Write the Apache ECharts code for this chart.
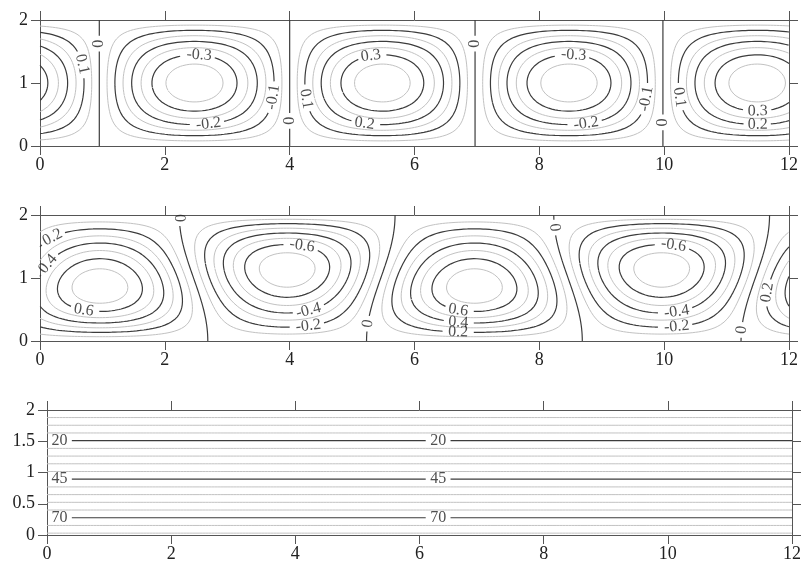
<!DOCTYPE html>
<html>
<head>
<meta charset="utf-8">
<script src="https://cdn.jsdelivr.net/npm/echarts@6/dist/echarts.min.js"></script>
<style>
html,body{margin:0;padding:0;background:#fff}
#chart{width:804px;height:567px}
</style>
</head>
<body>
<div id="chart"></div>
<script>
// ---- shared axis values ----
const xMin = 0, xMax = 12, xStep = 2;
const yMin = 0, yMax = 2;
const yStepTop = 1;      // panels 1 and 2
const yStepBottom = 0.5; // panel 3

// ---- panel 1: stream function, one cell between each pair of edges ----
const cellEdges1 = [-2.05, 0.95, 4.0, 6.97, 9.98, 13.0];
const cellAmp1 = [0.395, -0.393, 0.393, -0.393, 0.393];
const levels1 = [-0.35, -0.3, -0.25, -0.2, -0.15, -0.1, -0.05, 0.05, 0.1, 0.15, 0.2, 0.25, 0.3, 0.35];
const major1 = [-0.3, -0.2, -0.1, 0, 0.1, 0.2, 0.3];
const labelText1 = ['0', '0.1', '-0.3', '-0.2', '-0.1', '0', '0.3', '0.2', '0.1', '0', '-0.3', '-0.2', '-0.1', '0', '0.1', '0.3', '0.2'];
const labelX1 = [0.95, 0.64, 2.55, 2.70, 3.69, 4.00, 5.29, 5.18, 4.25, 6.97, 8.57, 8.77, 9.65, 9.98, 10.26, 11.5, 11.5];
const labelY1 = [1.63, 1.29, 1.38, 0.35, 0.77, 0.41, 1.40, 0.36, 0.76, 1.63, 1.40, 0.38, 0.77, 0.38, 0.77, 0.60, 0.35];

// ---- panel 2: tilted cells ----
const amp2 = 0.76;
const shear2 = 0.09;
const phase2 = 0.96;
const cellWidth2 = 3;
const levels2 = [-0.7, -0.6, -0.5, -0.4, -0.3, -0.2, -0.1, 0.1, 0.2, 0.3, 0.4, 0.5, 0.6, 0.7];
const major2 = [-0.6, -0.4, -0.2, 0, 0.2, 0.4, 0.6];
const labelText2 = ['0', '0.2', '0.4', '0.6', '-0.6', '-0.4', '-0.2', '0', '0.6', '0.4', '0.2', '0', '-0.6', '-0.4', '-0.2', '0', '0.2'];
const labelX2 = [2.02, 0.21, 0.11, 0.72, 4.20, 4.28, 4.28, 5.26, 6.68, 6.68, 6.68, 8.25, 10.13, 10.22, 10.22, 11.27, 11.70];
const labelY2 = [1.95, 1.63, 1.24, 0.49, 1.47, 0.49, 0.25, 0.28, 0.49, 0.30, 0.155, 1.80, 1.47, 0.49, 0.25, 0.17, 0.76];

// ---- panel 3: temperature layers ----
const tempBottom = 81.2;
const tempTop = 0.1;
const levels3 = [5, 10, 15, 20, 25, 30, 35, 40, 45, 50, 55, 60, 65, 70, 75, 80];
const major3 = [20, 45, 70];
const labelText3 = ['20', '45', '70', '20', '45', '70'];
const labelX3 = [0.2, 0.2, 0.2, 6.29, 6.29, 6.29];
const labelY3 = [1.51, 0.896, 0.277, 1.51, 0.896, 0.277];

// ---- fields ----
function psi1(x, y) {
  for (let k = 0; k < cellAmp1.length; k++) {
    const a = cellEdges1[k], b = cellEdges1[k + 1];
    if (x >= a && x <= b) return cellAmp1[k] * Math.sin(Math.PI * (x - a) / (b - a)) * Math.sin(Math.PI * y / 2);
  }
  return 0;
}
function psi1Zero(x) { return psi1(x, 1); }
function psi2(x, y) {
  return amp2 * Math.sin(Math.PI * y / 2) * Math.cos(Math.PI * (x - phase2) / cellWidth2) + shear2 * Math.sin(Math.PI * y);
}
// psi2 divided by sin(pi*y/2): same zero set, no zeros along top and bottom walls
function psi2Zero(x, y) {
  return amp2 * Math.cos(Math.PI * (x - phase2) / cellWidth2) + 2 * shear2 * Math.cos(Math.PI * y / 2);
}
function temp3(x, y) { return tempBottom + (tempTop - tempBottom) * y / 2; }

// ---- marching squares ----
const TABLE = {1: [[3, 0]], 2: [[0, 1]], 3: [[3, 1]], 4: [[1, 2]], 6: [[0, 2]], 7: [[3, 2]], 8: [[2, 3]],
  9: [[0, 2]], 11: [[1, 2]], 12: [[1, 3]], 13: [[0, 1]], 14: [[3, 0]]};
function isolines(f, level, nx, ny) {
  const xs = [], ys = [];
  for (let i = 0; i <= nx; i++) xs.push(xMin + (xMax - xMin) * i / nx);
  for (let j = 0; j <= ny; j++) ys.push(yMin + (yMax - yMin) * j / ny);
  const v = xs.map(x => ys.map(y => f(x, y)));
  const pts = new Map(), segs = [];
  const P = (key, x1, y1, v1, x2, y2, v2) => {
    if (!pts.has(key)) {
      const t = (level - v1) / (v2 - v1);
      pts.set(key, [x1 + t * (x2 - x1), y1 + t * (y2 - y1)]);
    }
    return key;
  };
  for (let i = 0; i < nx; i++) {
    for (let j = 0; j < ny; j++) {
      const va = v[i][j], vb = v[i + 1][j], vc = v[i + 1][j + 1], vd = v[i][j + 1];
      const code = (va >= level ? 1 : 0) | (vb >= level ? 2 : 0) | (vc >= level ? 4 : 0) | (vd >= level ? 8 : 0);
      if (code === 0 || code === 15) continue;
      const E = k => {
        if (k === 0) return P('h' + i + '_' + j, xs[i], ys[j], va, xs[i + 1], ys[j], vb);
        if (k === 1) return P('v' + (i + 1) + '_' + j, xs[i + 1], ys[j], vb, xs[i + 1], ys[j + 1], vc);
        if (k === 2) return P('h' + i + '_' + (j + 1), xs[i], ys[j + 1], vd, xs[i + 1], ys[j + 1], vc);
        return P('v' + i + '_' + j, xs[i], ys[j], va, xs[i], ys[j + 1], vd);
      };
      let pairs = TABLE[code];
      if (code === 5 || code === 10) {
        const centerIn = (va + vb + vc + vd) / 4 >= level;
        const cutBD = [[0, 1], [2, 3]], cutAC = [[3, 0], [1, 2]];
        pairs = code === 5 ? (centerIn ? cutBD : cutAC) : (centerIn ? cutAC : cutBD);
      }
      pairs.forEach(p => segs.push([E(p[0]), E(p[1])]));
    }
  }
  const adj = new Map();
  segs.forEach((s, idx) => s.forEach(k => { if (!adj.has(k)) adj.set(k, []); adj.get(k).push(idx); }));
  const used = new Array(segs.length).fill(false);
  const out = [];
  const grow = (chain, atEnd) => {
    for (;;) {
      const k = atEnd ? chain[chain.length - 1] : chain[0];
      const nxt = (adj.get(k) || []).find(q => !used[q]);
      if (nxt === undefined) break;
      used[nxt] = true;
      const other = segs[nxt][0] === k ? segs[nxt][1] : segs[nxt][0];
      if (atEnd) chain.push(other); else chain.unshift(other);
    }
  };
  for (let s = 0; s < segs.length; s++) {
    if (used[s]) continue;
    used[s] = true;
    const chain = [segs[s][0], segs[s][1]];
    grow(chain, true);
    grow(chain, false);
    out.push(chain.map(k => pts.get(k)));
  }
  return out;
}

// ---- layout ----
const grids = [
  {left: 40, top: 20, width: 749, height: 126},
  {left: 40, top: 215, width: 749, height: 126},
  {left: 47, top: 410, width: 749, height: 125}
];
const FONT = 'Liberation Serif';
const LABEL_SIZE = 16;
const MAJOR_COLOR = '#3c3c3c', MINOR_COLOR = '#c2c2c2', AXIS_COLOR = '#555';

function textWidth(t) {
  let w = 0;
  for (const ch of t) w += ch === '.' ? 0.25 : ch === '-' ? 0.333 : 0.5;
  return w * LABEL_SIZE;
}

const panels = [
  {field: psi1, zeroField: psi1Zero, levels: levels1, major: major1, text: labelText1, lx: labelX1, ly: labelY1},
  {field: psi2, zeroField: psi2Zero, levels: levels2, major: major2, text: labelText2, lx: labelX2, ly: labelY2},
  {field: temp3, zeroField: null, levels: levels3, major: major3, text: labelText3, lx: labelX3, ly: labelY3}
];

const series = [];
panels.forEach((p, gi) => {
  const g = grids[gi];
  const sx = g.width / (xMax - xMin), sy = g.height / (yMax - yMin);
  const lines = [];
  p.levels.forEach(L => isolines(p.field, L, 240, 80).forEach(pts => lines.push({level: L, pts})));
  if (p.zeroField) isolines(p.zeroField, 0, 240, 80).forEach(pts => lines.push({level: 0, pts}));
  const isMajor = L => p.major.some(m => Math.abs(m - L) < 1e-9);

  // place each label on its own contour, turned along the line
  const labels = p.text.map((t, n) => {
    const L = parseFloat(t);
    let best = null;
    lines.forEach(ln => {
      if (Math.abs(ln.level - L) > 1e-9) return;
      ln.pts.forEach((q, idx) => {
        const d = Math.hypot((q[0] - p.lx[n]) * sx, (q[1] - p.ly[n]) * sy);
        if (!best || d < best.d) best = {d, ln, idx};
      });
    });
    const pts = best.ln.pts;
    const a = pts[Math.max(0, best.idx - 2)], b = pts[Math.min(pts.length - 1, best.idx + 2)];
    let ang = Math.atan2((b[1] - a[1]) * sy, (b[0] - a[0]) * sx) * 180 / Math.PI;
    if (ang > 90) ang -= 180;
    if (ang < -90) ang += 180;
    const c = pts[best.idx];
    return {t, level: L, x: c[0], y: c[1], rot: ang, r: textWidth(t) / 2 + 3};
  });

  // break each contour where its label sits
  const pieces = [];
  lines.forEach(ln => {
    const mine = labels.filter(l => Math.abs(l.level - ln.level) < 1e-9);
    let run = [];
    ln.pts.forEach(q => {
      const hidden = mine.some(l => Math.hypot((q[0] - l.x) * sx, (q[1] - l.y) * sy) < l.r);
      if (hidden) { if (run.length > 1) pieces.push({level: ln.level, pts: run}); run = []; }
      else run.push(q);
    });
    if (run.length > 1) pieces.push({level: ln.level, pts: run});
  });

  pieces.sort((u, v) => (isMajor(u.level) ? 1 : 0) - (isMajor(v.level) ? 1 : 0));
  pieces.forEach(pc => {
    const maj = isMajor(pc.level);
    series.push({
      type: 'line', xAxisIndex: gi * 2, yAxisIndex: gi * 2, data: pc.pts,
      showSymbol: false, symbol: 'none', silent: true, animation: false,
      z: maj ? 3 : 2,
      lineStyle: {color: maj ? MAJOR_COLOR : MINOR_COLOR, width: maj ? 1.2 : 1}
    });
  });

  series.push({
    type: 'scatter', xAxisIndex: gi * 2, yAxisIndex: gi * 2, silent: true, animation: false, z: 5,
    symbolSize: 1, itemStyle: {color: 'rgba(0,0,0,0)'},
    data: labels.map(l => ({value: [l.x, l.y], txt: l.t, label: {rotate: l.rot}})),
    label: {show: true, position: 'inside', formatter: q => q.data.txt, fontFamily: FONT,
      fontSize: LABEL_SIZE, color: '#222', align: 'center', verticalAlign: 'middle'}
  });
});

// ---- axes: ticks pointing outward on all four sides ----
const lineStyle = {color: AXIS_COLOR, width: 1};
const xAxes = [], yAxes = [];
grids.forEach((g, gi) => {
  const base = {gridIndex: gi, type: 'value', min: xMin, max: xMax, interval: xStep,
    axisLine: {show: true, onZero: false, lineStyle}, axisTick: {show: true, inside: false, length: 9, lineStyle},
    splitLine: {show: false}};
  xAxes.push(Object.assign({}, base, {position: 'bottom',
    axisLabel: {fontFamily: FONT, fontSize: 18, color: '#222', margin: 10}}));
  xAxes.push(Object.assign({}, base, {position: 'top', axisLabel: {show: false}}));
  const yStep = gi === 2 ? yStepBottom : yStepTop;
  const ybase = {gridIndex: gi, type: 'value', min: yMin, max: yMax, interval: yStep,
    axisLine: {show: true, onZero: false, lineStyle}, axisTick: {show: true, inside: false, length: 9, lineStyle},
    splitLine: {show: false}};
  yAxes.push(Object.assign({}, ybase, {position: 'left',
    axisLabel: {fontFamily: FONT, fontSize: 18, color: '#222', margin: 12}}));
  yAxes.push(Object.assign({}, ybase, {position: 'right', axisLabel: {show: false}}));
});

const chart = echarts.init(document.getElementById('chart'), null, {renderer: 'canvas'});
chart.setOption({
  backgroundColor: '#fff',
  animation: false,
  textStyle: {fontFamily: FONT},
  grid: grids,
  xAxis: xAxes,
  yAxis: yAxes,
  series
});
</script>
</body>
</html>
